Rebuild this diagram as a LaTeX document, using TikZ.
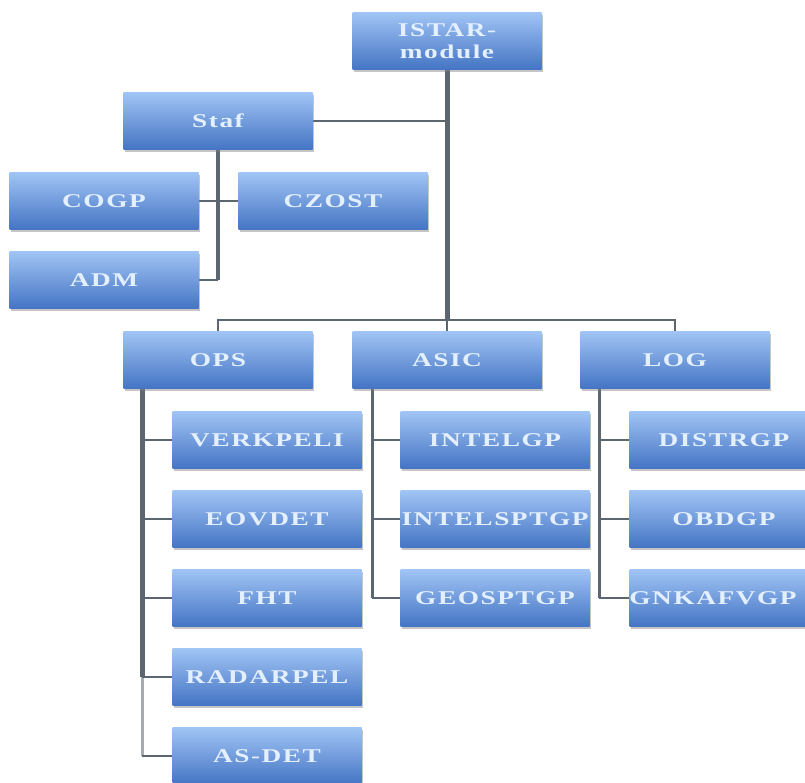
\documentclass[tikz,border=0pt]{standalone}
\usepackage{fontspec}
\setmainfont{Liberation Serif}
\newfontfamily\boxfont[LetterSpace=8,FakeStretch=1.4]{Liberation Serif}
\usetikzlibrary{shadows,calc,backgrounds}
\definecolor{boxtop}{HTML}{A0C4F4}
\definecolor{boxbot}{HTML}{4474C4}
\definecolor{boxtext}{HTML}{E4F0FF}
\definecolor{linec}{HTML}{5C6670}
\tikzset{
  unit/.style={rectangle, minimum width=189pt, minimum height=57pt, inner sep=0pt,
    top color=boxtop, bottom color=boxbot, draw=none,
    drop shadow={shadow xshift=1.5pt, shadow yshift=-2.5pt, fill=gray, opacity=0.45},
    font=\boxfont\fontsize{19.5}{22}\selectfont\bfseries, text=boxtext, align=center},
  trunk/.style={draw=linec, line width=5pt},
  midline/.style={draw=linec, line width=3.5pt},
  branch/.style={draw=linec, line width=2pt}
}
\begin{document}
\begin{tikzpicture}[x=1pt,y=-1pt]
\useasboundingbox (0,0) rectangle (805,783);
\begin{scope}
\clip (0,0) rectangle (805,783);
\coordinate (barL) at (218,320);
\coordinate (barR) at (675,320);

\node[unit] (istar) at (447,41) {ISTAR-\\module};
\node[unit] (staf) at (218,121) {Staf};
\node[unit] (cogp) at (104,201) {COGP};
\node[unit] (czost) at (333,201) {CZOST};
\node[unit] (adm) at (104,280) {ADM};
\node[unit] (ops) at (218,360) {OPS};
\node[unit] (asic) at (447,360) {ASIC};
\node[unit] (log) at (675,360) {LOG};

\node[unit] (verk) at (267,440) {VERKPELI};
\node[unit] (eovdet) at (267,519) {EOVDET};
\node[unit] (fht) at (267,598) {FHT};
\node[unit] (radar) at (267,677) {RADARPEL};
\node[unit] (asdet) at (267,756) {AS-DET};

\node[unit] (intelgp) at (495,440) {INTELGP};
\node[unit] (intelspt) at (495,519) {INTELSPTGP};
\node[unit] (geospt) at (495,598) {GEOSPTGP};

\node[unit] (distr) at (724,440) {DISTRGP};
\node[unit] (obdgp) at (724,519) {OBDGP};
\node[unit] (gnka) at (724,598) {\hspace*{-22pt}GNKAFVGP};

\coordinate (opsT) at ($(ops.south west)+(19,0)$);
\coordinate (asicT) at ($(asic.south west)+(20,0)$);
\coordinate (logT) at ($(log.south west)+(19,0)$);

\begin{scope}[on background layer]
\fill[white] (0,0) rectangle (805,783);
\draw[trunk] (istar.south) -- (istar.south |- barL);
\draw[branch] (ops.north) -- (barL) -- (barR) -- (log.north);
\draw[branch] (istar.south |- barL) -- (asic.north);
\draw[branch] (staf.east) -- (staf.east -| istar.south);
\draw[midline] (staf.south) -- (staf.south |- adm.east);
\draw[branch] (staf.south |- adm.east) -- (adm.east);
\draw[branch] (cogp.east) -- (czost.west);
\draw[trunk] (opsT) -- (opsT |- radar.west);
\draw[midline, draw=linec!55] (opsT |- radar.west) -- (opsT |- asdet.west);
\draw[branch] (opsT |- asdet.west) -- (asdet.west);
\foreach \n in {verk,eovdet,fht,radar} \draw[branch] (opsT |- \n.west) -- (\n.west);
\draw[midline] (asicT) -- (asicT |- geospt.west);
\foreach \n in {intelgp,intelspt,geospt} \draw[branch] (asicT |- \n.west) -- (\n.west);
\draw[midline] (logT) -- (logT |- gnka.west);
\foreach \n in {distr,obdgp,gnka} \draw[branch] (logT |- \n.west) -- (\n.west);
\end{scope}
\end{scope}
\end{tikzpicture}
\end{document}
